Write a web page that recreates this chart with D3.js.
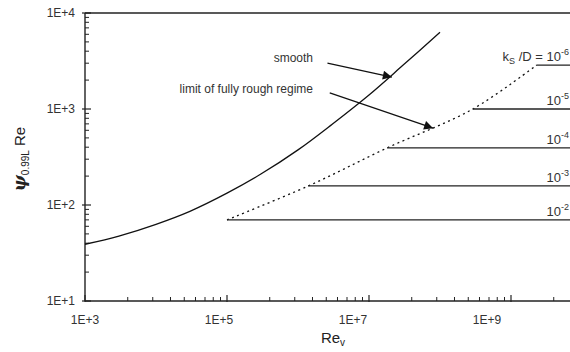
<!DOCTYPE html>
<html>
<head>
<meta charset="utf-8">
<script src="https://cdn.jsdelivr.net/npm/d3@7"></script>
<style>
  body { margin: 0; background: #fff; }
  svg { display: block; font-family: "Liberation Sans", Arial, sans-serif; }
</style>
</head>
<body>
<svg id="chart" width="570" height="352"></svg>
<script>
// smooth wall curve
const smoothRe = [1e3, 3e3, 1e4, 3e4, 1e5, 3e5, 1e6, 3e6, 1e7, 3e7, 1e8];
const smoothPsiRe = [39, 47.5, 63, 86, 133, 210, 375, 690, 1400, 2850, 6300];

// fully rough plateaus (ks/D = 10^exp)
const roughExp = ["-6", "-5", "-4", "-3", "-2"];
const roughStartRe = [2.3e9, 2.9e8, 1.8e7, 1.4e6, 1e5];
const roughPsiRe = [2870, 1000, 393, 158, 70];

// axis ticks
const xMajor = [1e3, 1e5, 1e7, 1e9];
const xLabels = ["1E+3", "1E+5", "1E+7", "1E+9"];
const yMajor = [1e1, 1e2, 1e3, 1e4];
const yLabels = ["1E+1", "1E+2", "1E+3", "1E+4"];

// annotation arrows [from Re, from value, to Re, to value]
const smoothArrow = [2.6e6, 3000, 2.1e7, 2150];
const limitArrow = [2.8e6, 1470, 8e7, 632];

const svg = d3.select("#chart");
const W = 570;

const x = d3.scaleLog().domain([1e3, 1e10]).range([85, 582]);
const y = d3.scaleLog().domain([1e1, 1e4]).range([301, 13]);
// tick labels sit a little off the ticks in the original
const xLab = d3.scaleLog().domain([1e3, 1e9]).range([85, 487]);

const ink = "#222";

// minor ticks
let xMinor = [];
[1e3, 1e5, 1e7, 1e9].forEach(m => {
    for (let k = 2; k <= 9; k++) xMinor.push(m * k * k);
});
let yMinor = [];
[1e1, 1e2, 1e3].forEach(m => {
    for (let k = 2; k <= 9; k++) yMinor.push(m * k);
});

const axes = svg.append("g");

// frame: left axis, bottom axis, top border
axes.append("line").attr("x1", x(1e3)).attr("x2", W).attr("y1", y(1e1)).attr("y2", y(1e1))
    .attr("stroke", ink).attr("stroke-width", 1.4);
axes.append("line").attr("x1", x(1e3)).attr("x2", W).attr("y1", y(1e4)).attr("y2", y(1e4))
    .attr("stroke", ink).attr("stroke-width", 1.4);
axes.append("line").attr("x1", x(1e3)).attr("x2", x(1e3)).attr("y1", y(1e4)).attr("y2", y(1e1))
    .attr("stroke", ink).attr("stroke-width", 1.4);

axes.selectAll(".xminor").data(xMinor.filter(d => x(d) < W)).enter().append("line")
    .attr("x1", d => x(d)).attr("x2", d => x(d))
    .attr("y1", y(1e1)).attr("y2", y(1e1) - 4)
    .attr("stroke", ink).attr("stroke-width", 1);
axes.selectAll(".xmajor").data(xMajor).enter().append("line")
    .attr("x1", d => x(d)).attr("x2", d => x(d))
    .attr("y1", y(1e1) + 1).attr("y2", y(1e1) - 6)
    .attr("stroke", ink).attr("stroke-width", 1.2);
axes.selectAll(".yminor").data(yMinor).enter().append("line")
    .attr("x1", x(1e3)).attr("x2", x(1e3) + 4)
    .attr("y1", d => y(d)).attr("y2", d => y(d))
    .attr("stroke", ink).attr("stroke-width", 1);
axes.selectAll(".ymajor").data(yMajor).enter().append("line")
    .attr("x1", x(1e3) - 3).attr("x2", x(1e3) + 6)
    .attr("y1", d => y(d)).attr("y2", d => y(d))
    .attr("stroke", ink).attr("stroke-width", 1.2);

axes.selectAll(".xlab").data(xMajor).enter().append("text")
    .attr("x", d => xLab(d)).attr("y", 324)
    .attr("text-anchor", "middle").attr("font-size", 12).attr("fill", "#333")
    .text((d, i) => xLabels[i]);
axes.selectAll(".ylab").data(yMajor).enter().append("text")
    .attr("x", 75).attr("y", d => y(d)).attr("dy", "0.35em")
    .attr("text-anchor", "end").attr("font-size", 12).attr("fill", "#333")
    .text((d, i) => yLabels[i]);

// axis titles
const xt = svg.append("text").attr("x", 333).attr("y", 343)
    .attr("text-anchor", "middle").attr("font-size", 15).attr("fill", "#222");
xt.append("tspan").text("Re");
xt.append("tspan").attr("font-size", 10).attr("dy", 3).text("v");

const yt = svg.append("text").attr("transform", "translate(25,159) rotate(-90)")
    .attr("text-anchor", "middle").attr("fill", "#222");
yt.append("tspan").attr("font-family", "DejaVu Serif").attr("font-style", "italic")
    .attr("font-weight", "bold").attr("font-size", 17).text("ψ");
yt.append("tspan").attr("font-size", 10).attr("dy", 4).text("0.99L");
yt.append("tspan").attr("font-size", 15).attr("dy", -4).text(" Re");

// smooth curve
const line = d3.line().x(d => x(d[0])).y(d => y(d[1])).curve(d3.curveCatmullRom.alpha(0.5));
svg.append("path")
    .attr("d", line(smoothRe.map((r, i) => [r, smoothPsiRe[i]])))
    .attr("fill", "none").attr("stroke", "#111").attr("stroke-width", 1.3);

// limit of fully rough regime (dotted)
const limitPts = roughStartRe.map((r, i) => [r, roughPsiRe[i]]).sort((a, b) => a[0] - b[0]);
svg.append("path")
    .attr("d", line(limitPts))
    .attr("fill", "none").attr("stroke", "#111").attr("stroke-width", 1.3)
    .attr("stroke-dasharray", "2,3.5");

// plateaus
svg.selectAll(".rough").data(roughStartRe).enter().append("line")
    .attr("x1", d => x(d)).attr("x2", x(1e10))
    .attr("y1", (d, i) => y(roughPsiRe[i])).attr("y2", (d, i) => y(roughPsiRe[i]))
    .attr("stroke", "#222").attr("stroke-width", 1.3);

// plateau labels
roughExp.forEach((e, i) => {
    const t = svg.append("text").attr("x", W - 1).attr("y", y(roughPsiRe[i]) - 4)
        .attr("text-anchor", "end").attr("font-size", 13).attr("fill", "#333");
    if (i === 0) {
        t.append("tspan").text("k");
        t.append("tspan").attr("font-size", 9).attr("dy", 3).text("S");
        t.append("tspan").attr("dy", -3).text(" /D = 10");
    } else {
        t.append("tspan").text("10");
    }
    t.append("tspan").attr("font-size", 9).attr("dy", -6).text(e);
});

// annotations
svg.append("defs").append("marker")
    .attr("id", "head").attr("viewBox", "0 0 10 10").attr("refX", 10).attr("refY", 5)
    .attr("markerWidth", 12).attr("markerHeight", 9).attr("markerUnits", "userSpaceOnUse")
    .attr("orient", "auto")
    .append("path").attr("d", "M0,0 L10,5 L0,10 z").attr("fill", "#111");

[smoothArrow, limitArrow].forEach(a => {
    svg.append("line")
        .attr("x1", x(a[0])).attr("y1", y(a[1]))
        .attr("x2", x(a[2])).attr("y2", y(a[3]))
        .attr("stroke", "#111").attr("stroke-width", 1.2)
        .attr("marker-end", "url(#head)");
});

svg.append("text").attr("x", 313).attr("y", 62).attr("text-anchor", "end")
    .attr("font-size", 12).attr("fill", "#333").text("smooth");
svg.append("text").attr("x", 313).attr("y", 93).attr("text-anchor", "end")
    .attr("font-size", 12).attr("fill", "#333").text("limit of fully rough regime");
</script>
</body>
</html>
